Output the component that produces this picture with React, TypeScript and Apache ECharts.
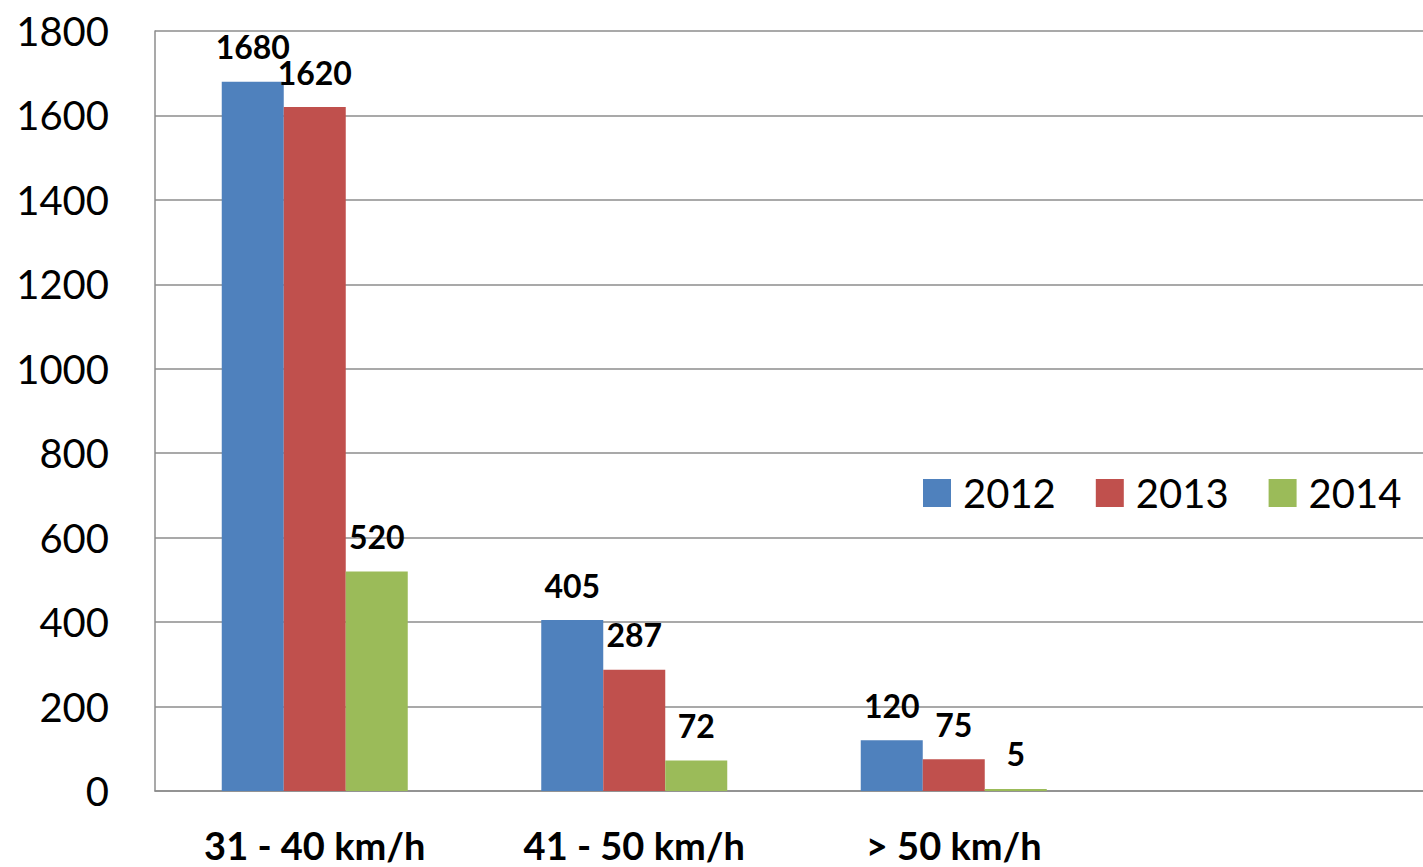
import React, { useEffect, useRef } from "react";
import * as echarts from "echarts";

const categories = ["31 - 40 km/h", "41 - 50 km/h", "> 50 km/h", ""];
const seriesNames = ["2012", "2013", "2014"];
const values2012 = [1680, 405, 120];
const values2013 = [1620, 287, 75];
const values2014 = [520, 72, 5];
const colors = ["#4F81BD", "#C0504D", "#9BBB59"];
const yTicks = { min: 0, max: 1800, interval: 200 };

export default function App() {
  const ref = useRef<HTMLDivElement>(null);
  useEffect(() => {
    document.body.style.margin = "0";
    document.body.style.overflow = "hidden";
    document.documentElement.style.overflow = "hidden";
    const chart = echarts.init(ref.current!, null, { renderer: "svg" });
    const font = "Lato, 'Open Sans', sans-serif";
    const allValues = [values2012, values2013, values2014];
    chart.setOption({
      animation: false,
      textStyle: { fontFamily: font },
      color: colors,
      grid: { left: 155, top: 31, bottom: 76, right: 0, containLabel: false },
      legend: {
        data: seriesNames,
        left: 918,
        top: 468,
        itemWidth: 28,
        itemHeight: 28,
        itemGap: 40,
        icon: "rect",
        textStyle: { fontSize: 40, color: "#000", fontFamily: font, padding: [0, 0, 0, 7] },
      },
      xAxis: {
        type: "category",
        data: categories,
        axisLine: { lineStyle: { color: "#8c8c8c", width: 1.5 } },
        axisTick: { show: false },
        axisLabel: { fontSize: 38, fontWeight: "bold", color: "#000", margin: 35, fontFamily: font, interval: 0 },
      },
      yAxis: {
        type: "value",
        min: yTicks.min,
        max: yTicks.max,
        interval: yTicks.interval,
        axisLine: { show: true, lineStyle: { color: "#8c8c8c", width: 1.5 } },
        axisTick: { show: false },
        splitLine: { lineStyle: { color: "#8c8c8c", width: 1.5 } },
        axisLabel: {
          fontSize: 40,
          color: "#000",
          margin: 46,
          fontFamily: font,
          formatter: (v: number) => String(v),
        },
      },
      series: seriesNames.map((name, i) => ({
        name,
        type: "bar",
        data: allValues[i],
        barWidth: 62,
        barGap: "0%",
        itemStyle: { color: colors[i] },
        label: {
          show: true,
          position: "top",
          distance: 19,
          fontSize: 32,
          fontWeight: "bold",
          color: "#000",
          fontFamily: font,
        },
      })),
    });
    return () => chart.dispose();
  }, []);
  return <div ref={ref} style={{ width: 1433, height: 867 }} />;
}
